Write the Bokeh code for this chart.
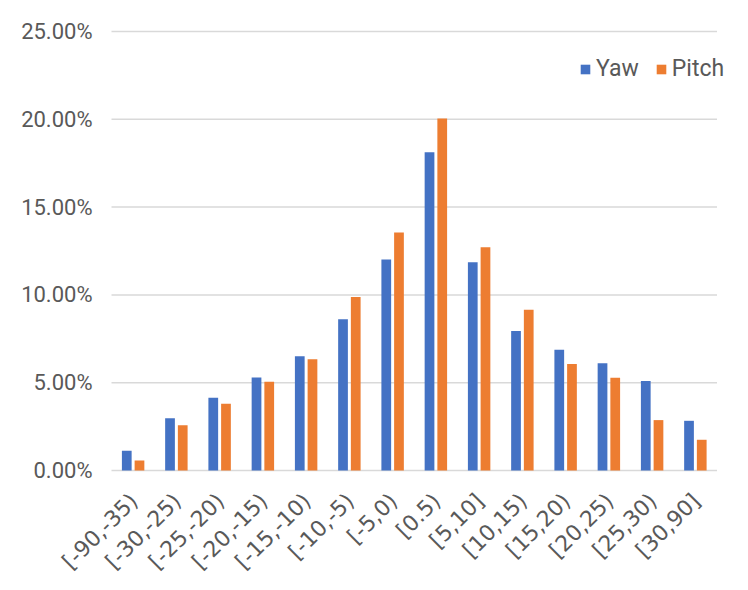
import math
from bokeh.plotting import figure
from bokeh.models import ColumnDataSource, Range1d, Legend, LegendItem, LabelSet
from bokeh.core.properties import value
from bokeh.embed import file_html
from bokeh.resources import INLINE

categories = ["[-90,-35)", "[-30,-25)", "[-25,-20)", "[-20,-15)", "[-15,-10)", "[-10,-5)", "[-5,0)",
              "[0.5)", "[5,10]", "[10,15)", "[15,20)", "[20,25)", "[25,30)", "[30,90]"]
yaw = [1.12, 2.98, 4.14, 5.30, 6.50, 8.61, 12.01, 18.13, 11.86, 7.95, 6.87, 6.11, 5.09, 2.83]
pitch = [0.57, 2.57, 3.80, 5.06, 6.33, 9.88, 13.55, 20.05, 12.71, 9.16, 6.07, 5.28, 2.87, 1.75]
y_ticks = [0, 0.05, 0.10, 0.15, 0.20, 0.25]
y_tick_labels = ["0.00%", "5.00%", "10.00%", "15.00%", "20.00%", "25.00%"]

n = len(categories)
idx = list(range(n))
src = ColumnDataSource(dict(x=idx, cat=categories,
                            xy=[i - 0.147 for i in idx], xp=[i + 0.147 for i in idx],
                            yaw=[v / 100 for v in yaw],
                            pitch=[v / 100 for v in pitch],
                            base=[0.0] * n))
tick_src = ColumnDataSource(dict(y=y_ticks, label=y_tick_labels,
                                 x0=[-0.5] * len(y_ticks), x1=[n - 0.5] * len(y_ticks)))

FONT = "Roboto"
TXT = "#595959"

# layout (pixels); the frame covers the whole figure
W, H = 732, 574
BAND_LEFT, BAND_RIGHT = 111, 716.5   # pixel columns where the category band starts / ends
AXIS_Y, TOP_Y = 470, 31              # pixel rows of the 0 line and of the top gridline
cat_px = (BAND_RIGHT - BAND_LEFT) / n
unit_px = (AXIS_Y - TOP_Y) / y_ticks[-1]
x0 = -0.5 - BAND_LEFT / cat_px
y0 = -(H - AXIS_Y) / unit_px

p = figure(width=W, height=H, x_range=Range1d(x0, x0 + W / cat_px),
           y_range=Range1d(y0, y0 + H / unit_px), output_backend="svg", toolbar_location=None,
           min_border_left=0, min_border_right=0, min_border_top=0, min_border_bottom=0)
p.outline_line_color = None
p.grid.visible = False
p.axis.visible = False

p.segment(x0="x0", x1="x1", y0="y", y1="y", source=tick_src, line_color="#D9D9D9", line_width=1.5)

r1 = p.vbar(x="xy", top="yaw", width=0.225, source=src, fill_color="#4472C4", line_color=None)
r2 = p.vbar(x="xp", top="pitch", width=0.225, source=src, fill_color="#ED7D31", line_color=None)

ylabels = LabelSet(x="x0", y="y", text="label", source=tick_src, x_offset=-19,
                   text_align="right", text_baseline="middle",
                   text_font=value(FONT), text_font_size=value("22px"), text_color=TXT)
p.add_layout(ylabels)

xlabels = LabelSet(x="x", y="base", text="cat", source=src, angle=math.pi / 4,
                   text_align="right", text_baseline="top", x_offset=-8, y_offset=-18,
                   text_font=value("DejaVu Sans"), text_font_size=value("22px"), text_color=TXT)
p.add_layout(xlabels)

legend = Legend(items=[LegendItem(label="Yaw", renderers=[r1]), LegendItem(label="Pitch", renderers=[r2])],
                location=(579, 574 - 82), orientation="horizontal",
                label_text_font=FONT, label_text_font_size="23px", label_text_color=TXT,
                glyph_width=12, glyph_height=12, label_standoff=5, spacing=16,
                padding=0, margin=0, border_line_color=None, background_fill_alpha=0)
p.add_layout(legend, "center")

open("out.html", "w").write(file_html(p, INLINE))
